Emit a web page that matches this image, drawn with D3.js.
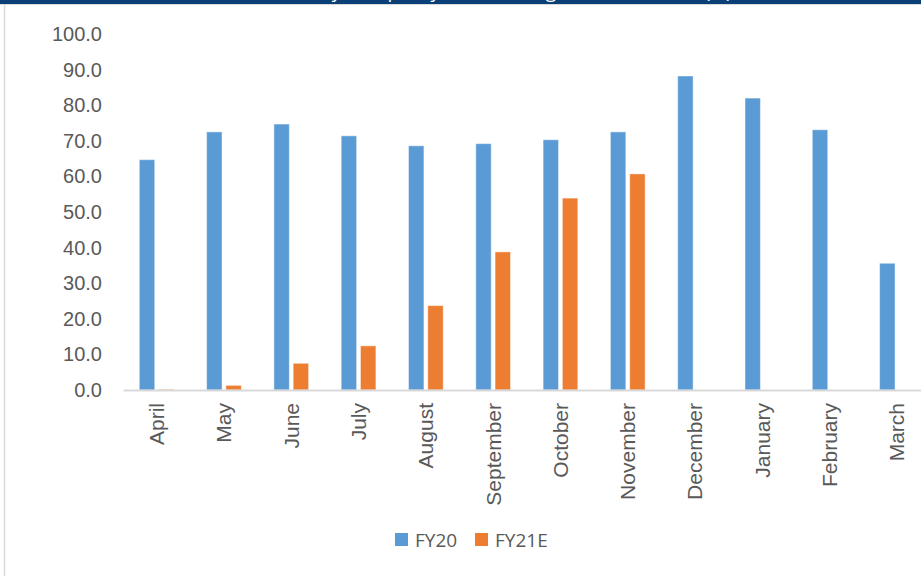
<!DOCTYPE html>
<html>
<head>
<meta charset="utf-8">
<script src="https://d3js.org/d3.v7.min.js"></script>
<style>
  html, body { margin: 0; padding: 0; background: #fff; }
  svg { display: block; font-family: "Open Sans", "Liberation Sans", Arial, sans-serif; }
</style>
</head>
<body>
<div id="chart"></div>
<script>
// Monthly values, FY20 vs FY21E
const months = ['April', 'May', 'June', 'July', 'August', 'September', 'October', 'November', 'December', 'January', 'February', 'March'];
const series = ['FY20', 'FY21E'];
const fy20 = [64.7, 72.5, 74.7, 71.4, 68.6, 69.2, 70.3, 72.5, 88.2, 82.0, 73.1, 35.6];
const fy21e = [0.2, 1.3, 7.5, 12.4, 23.7, 38.8, 53.9, 60.7, null, null, null, null];
const colors = ['#5b9bd5', '#ed7d31'];
const yTicks = [0, 10, 20, 30, 40, 50, 60, 70, 80, 90, 100];

const width = 921;
const height = 576;

const svg = d3.select('#chart').append('svg')
    .attr('width', width)
    .attr('height', height);

// header band (title is cut off at the top of the picture)
svg.append('rect')
    .attr('x', 0).attr('y', 0)
    .attr('width', width).attr('height', 4)
    .attr('fill', '#0b3f78');
svg.append('text')
    .attr('x', 500).attr('y', -2)
    .attr('text-anchor', 'middle')
    .style('font-size', '19px')
    .style('fill', '#fff')
    .text('Monthly occupancy trend during FY20 and FY21E (%)');
svg.append('line')
    .attr('x1', 0).attr('x2', width)
    .attr('y1', 4.5).attr('y2', 4.5)
    .attr('stroke', '#d9d9d9');
svg.append('line')
    .attr('x1', 4.5).attr('x2', 4.5)
    .attr('y1', 5).attr('y2', height)
    .attr('stroke', '#d9d9d9')
    .attr('stroke-width', 1.5);

const x = d3.scaleBand()
    .domain(months)
    .range([123, 930.6]);

const xs = d3.scaleBand()
    .domain(series)
    .range([16.3, 51])
    .paddingInner(0.2);

const y = d3.scaleLinear()
    .domain([0, 100])
    .range([390, 34]);

// y axis labels
const yAxis = svg.append('g')
    .attr('transform', 'translate(102,0)')
    .call(d3.axisLeft(y).tickValues(yTicks).tickFormat(d3.format('.1f')).tickSize(0).tickPadding(0));
yAxis.select('.domain').remove();
yAxis.selectAll('text')
    .attr('font-family', null)
    .style('font-size', '20px')
    .style('fill', '#595959');

// bars
const data = [fy20, fy21e];
data.forEach((vals, si) => {
    svg.append('g')
        .selectAll('rect')
        .data(months.map((m, i) => ({ m, v: vals[i] })).filter(d => d.v != null))
        .join('rect')
        .attr('x', d => x(d.m) + xs(series[si]))
        .attr('y', d => y(d.v))
        .attr('width', xs.bandwidth())
        .attr('height', d => y(0) - y(d.v))
        .attr('fill', colors[si])
        .attr('stroke', '#fff')
        .attr('stroke-opacity', 0.45)
        .attr('stroke-width', 1);
});

// x axis
const xAxis = svg.append('g')
    .attr('transform', `translate(0,${y(0)})`)
    .call(d3.axisBottom(x).tickSize(0).tickPadding(0));
xAxis.select('.domain')
    .attr('stroke', '#d9d9d9')
    .attr('stroke-width', 2);
xAxis.selectAll('text')
    .attr('font-family', null)
    .attr('transform', 'rotate(-90)')
    .attr('text-anchor', 'end')
    .attr('x', -13)
    .attr('y', 0)
    .attr('dy', '0.35em')
    .style('font-size', '21px')
    .style('fill', '#595959');

// legend
const legend = svg.append('g')
    .attr('transform', 'translate(395,540)');
const legendX = [0, 80];
series.forEach((s, i) => {
    legend.append('rect')
        .attr('x', legendX[i]).attr('y', -7)
        .attr('width', 13).attr('height', 13)
        .attr('fill', colors[i]);
    legend.append('text')
        .attr('x', legendX[i] + 20).attr('y', 0)
        .attr('dy', '0.35em')
        .style('font-size', '19px')
        .style('fill', '#595959')
        .text(s);
});
</script>
</body>
</html>
